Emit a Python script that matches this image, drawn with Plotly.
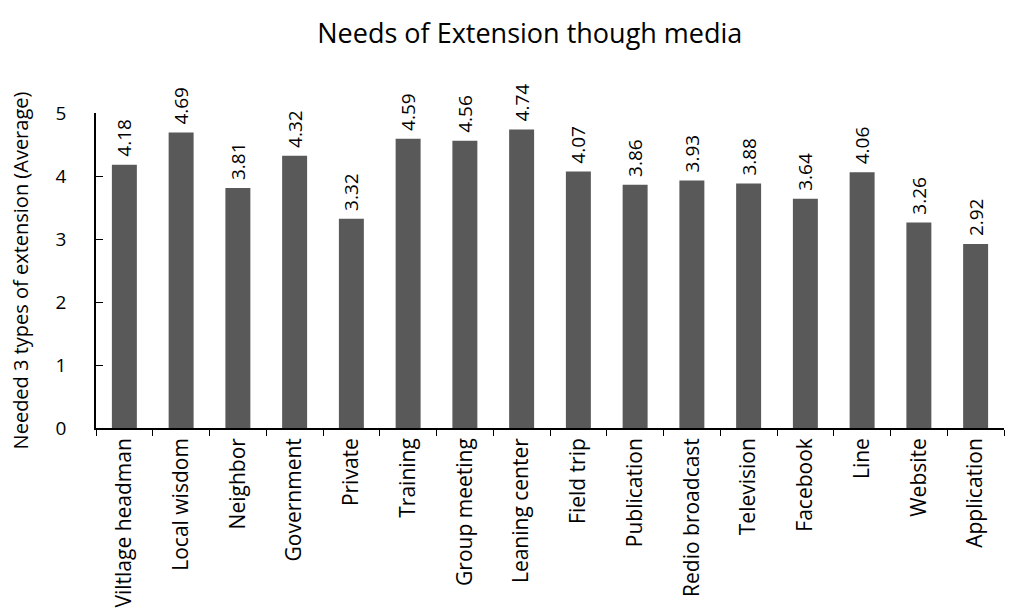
import plotly.graph_objects as go

categories = ["Viltlage headman", "Local wisdom", "Neighbor", "Government", "Private",
              "Training", "Group meeting", "Leaning center", "Field trip", "Publication",
              "Redio broadcast", "Television", "Facebook", "Line", "Website", "Application"]
values = [4.18, 4.69, 3.81, 4.32, 3.32, 4.59, 4.56, 4.74, 4.07, 3.86, 3.93, 3.88, 3.64, 4.06, 3.26, 2.92]
y_ticks = [0, 1, 2, 3, 4, 5]

font_family = "Open Sans, Noto Sans, sans-serif"

fig = go.Figure(go.Bar(
    x=categories, y=values,
    marker=dict(color="#595959", line=dict(width=0)),
    text=[f"\u00a0{v:.2f}" for v in values],
    textposition="outside", textangle=-90,
    constraintext="none",
    textfont=dict(size=19, color="#000000", family=font_family),
    cliponaxis=False,
    hoverinfo="skip",
))

fig.update_layout(
    width=1015, height=608,
    margin=dict(l=96, r=11, t=113, b=180, autoexpand=False),
    paper_bgcolor="white", plot_bgcolor="white",
    bargap=0.56,
    showlegend=False,
    title=dict(text="Needs of Extension though media", x=0.522, xanchor="center",
               y=0.945, yanchor="middle",
               font=dict(size=27, color="#000000", family=font_family)),
    font=dict(family=font_family, color="#000000"),
)

fig.update_xaxes(
    automargin=False,
    showline=True, linecolor="#000000", linewidth=1.5,
    ticks="outside", ticklen=6, tickcolor="#000000", tickson="boundaries",
    tickangle=-90, tickfont=dict(size=21, family=font_family),
    showgrid=False,
)
fig.update_yaxes(
    automargin=False,
    range=[0, 5], tickvals=y_ticks,
    showline=True, linecolor="#000000", linewidth=1.5,
    ticks="inside", ticklen=7, tickcolor="#000000",
    ticklabelstandoff=24,
    tickfont=dict(size=19, family=font_family),
    showgrid=False, zeroline=False,
    title=dict(text="Needed 3 types of extension (Average)", standoff=22,
               font=dict(size=20, family=font_family)),
)

fig.write_html("out.html", config={"displayModeBar": False},
               post_script="document.body.style.margin='0';document.body.style.overflow='hidden';")
